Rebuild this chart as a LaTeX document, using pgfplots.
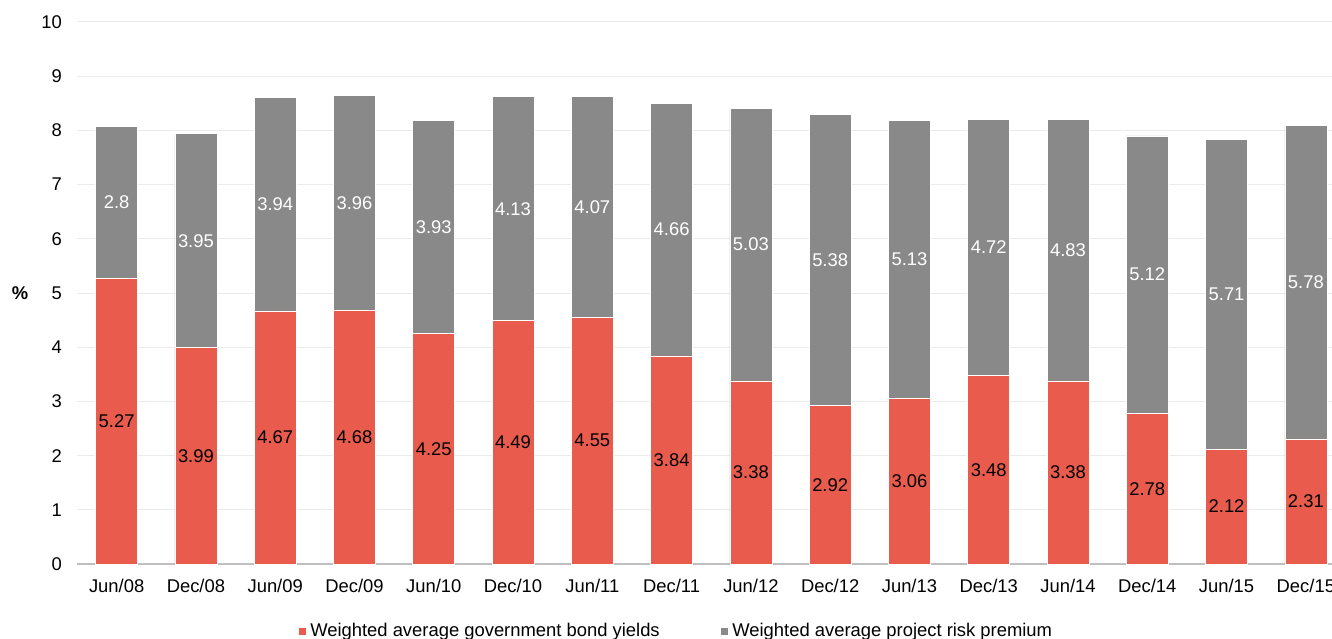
\documentclass[border=0pt]{standalone}
\usepackage{pgfplots}
\usepackage{pgfplotstable}
\pgfplotsset{compat=1.18}
\usepackage{fontspec}
\setmainfont{Liberation Sans}
\definecolor{bondred}{HTML}{E85B4D}
\definecolor{riskgray}{HTML}{898989}

\pgfplotstableread{
x y
0 5.27
1 3.99
2 4.67
3 4.68
4 4.25
5 4.49
6 4.55
7 3.84
8 3.38
9 2.92
10 3.06
11 3.48
12 3.38
13 2.78
14 2.12
15 2.31
}\bonds

\pgfplotstableread{
x y
0 2.8
1 3.95
2 3.94
3 3.96
4 3.93
5 4.13
6 4.07
7 4.66
8 5.03
9 5.38
10 5.13
11 4.72
12 4.83
13 5.12
14 5.71
15 5.78
}\premium

\begin{document}
\begin{tikzpicture}
\begin{axis}[
  scale only axis,
  width=627.5pt, height=271pt,
  ybar stacked,
  bar width=0.53,
  xmin=-0.5, xmax=15.33,
  ymin=0, ymax=10,
  ytick={0,1,...,10},
  xtick={0,1,...,15},
  xticklabels={Jun/08,Dec/08,Jun/09,Dec/09,Jun/10,Dec/10,Jun/11,Dec/11,Jun/12,Dec/12,Jun/13,Dec/13,Jun/14,Dec/14,Jun/15,Dec/15},
  /pgf/number format/assume math mode=true,
  font=\fontsize{9.2}{11}\selectfont,
  tick label style={font=\fontsize{9.2}{11}\selectfont},
  major tick length=0pt,
  axis x line*=bottom,
  axis y line*=left,
  y axis line style={draw=none},
  x axis line style={draw=black!25, line width=1pt},
  ymajorgrids,
  grid style={draw=black!8, line width=0.5pt},
  xticklabel style={yshift=-4pt},
  yticklabel style={xshift=-4pt},
  ylabel={\textbf{\%}},
  ylabel style={rotate=-90, at={(axis description cs:0,0.5)}, anchor=center, xshift=-28.5pt},
  point meta=explicit,
  nodes near coords,
  nodes near coords align=center,
  every node near coord/.append style={anchor=center, font=\fontsize{9.2}{11}\selectfont},
  legend columns=2,
  legend style={draw=none, at={(rel axis cs:0.478,0)}, anchor=center, yshift=-33.5pt,
    font=\fontsize{9.2}{11}\selectfont, /tikz/every even column/.append style={column sep=28pt}},
  legend image code/.code={\fill[#1] (0pt,-2pt) rectangle (4pt,2pt);},
]
\addplot[fill=bondred, draw=white, line width=0.3pt, every node near coord/.append style={text=black}]
  table[x=x, y=y, meta=y] {\bonds};
\addplot[fill=riskgray, draw=white, line width=0.3pt, every node near coord/.append style={text=white}]
  table[x=x, y=y, meta=y] {\premium};
\legend{Weighted average government bond yields, Weighted average project risk premium}
\coordinate (bl) at (rel axis cs:0,0);
\coordinate (tr) at (rel axis cs:1,1);
\end{axis}
\pgfresetboundingbox
\path ([shift={(-38.5pt,-37pt)}]bl) rectangle ([shift={(0pt,11pt)}]tr);
\end{tikzpicture}
\end{document}
